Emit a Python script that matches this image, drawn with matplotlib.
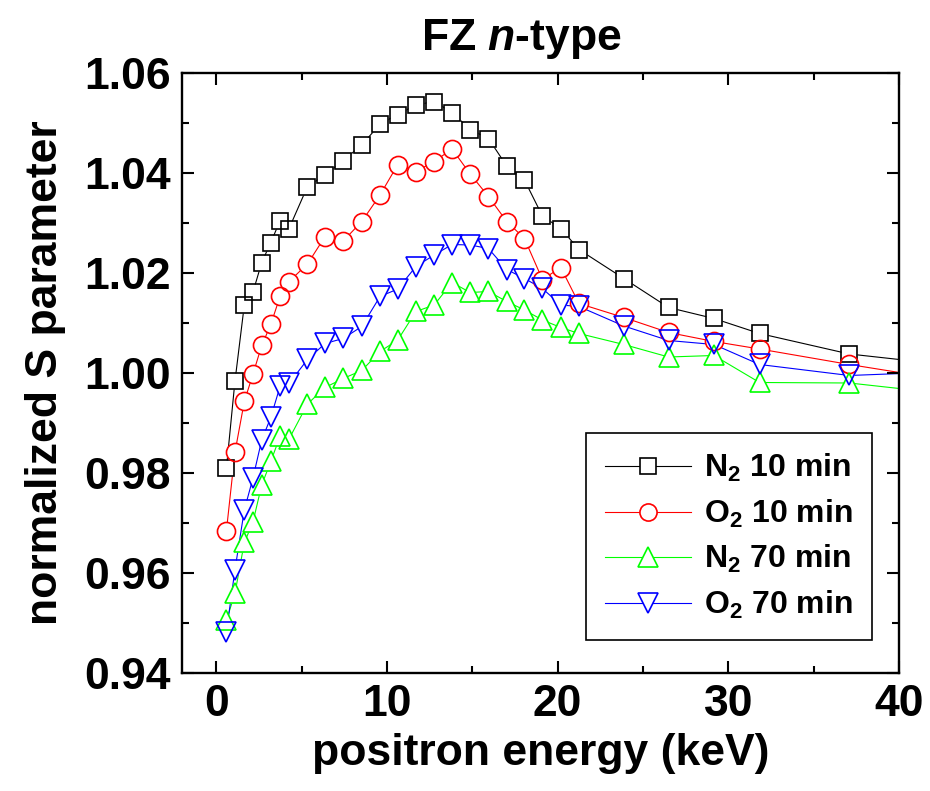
"""
Normalized S parameter vs positron energy, FZ n-type Si.
"""

import matplotlib
matplotlib.use("Agg")
import matplotlib.pyplot as plt
from matplotlib.lines import Line2D
from matplotlib.ticker import MultipleLocator


# ============================================================
# Data
# ============================================================
energy = [0.6, 1.1, 1.65, 2.15, 2.67, 3.2, 3.75, 4.27, 5.35, 6.38,
          7.44, 8.53, 9.6, 10.64, 11.7, 12.77, 13.82, 14.88, 15.95, 17.02,
          18.06, 19.11, 20.19, 21.25, 23.88, 26.5, 29.16, 31.83, 37.09, 42.4]

s_n2_10 = [0.9809, 0.9983, 1.0136, 1.0161, 1.0221, 1.0261, 1.0305, 1.0289, 1.0373, 1.0396,
           1.0425, 1.0456, 1.0498, 1.0517, 1.0536, 1.0543, 1.0521, 1.0487, 1.0469, 1.0414,
           1.0386, 1.0314, 1.0289, 1.0247, 1.0189, 1.0131, 1.0109, 1.0079, 1.0038, 1.0018]

s_o2_10 = [0.9684, 0.9841, 0.9943, 0.9997, 1.0055, 1.0097, 1.0154, 1.0183, 1.0218, 1.0273,
           1.0264, 1.0303, 1.0356, 1.0417, 1.0403, 1.0423, 1.0448, 1.0398, 1.0353, 1.0303,
           1.0269, 1.0187, 1.0211, 1.0139, 1.0111, 1.0081, 1.0063, 1.0048, 1.0017, 0.9988]

s_n2_70 = [0.9505, 0.9559, 0.9661, 0.9701, 0.9776, 0.9823, 0.9874, 0.9868, 0.9938, 0.9971,
           0.9989, 1.0005, 1.0043, 1.0066, 1.0123, 1.0136, 1.0181, 1.0161, 1.0163, 1.0143,
           1.0126, 1.0106, 1.0091, 1.0079, 1.0057, 1.0032, 1.0035, 0.9981, 0.9980, 0.9960]

s_o2_70 = [0.9482, 0.9606, 0.9726, 0.9789, 0.9866, 0.9911, 0.9974, 0.9979, 1.0027, 1.0059,
           1.0069, 1.0093, 1.0153, 1.0168, 1.0213, 1.0236, 1.0257, 1.0256, 1.0249, 1.0207,
           1.0189, 1.0169, 1.0136, 1.0133, 1.0094, 1.0065, 1.0057, 1.0017, 0.9995, 1.0002]

labels = [r"N$_2$ 10 min", r"O$_2$ 10 min", r"N$_2$ 70 min", r"O$_2$ 70 min"]
series = [s_n2_10, s_o2_10, s_n2_70, s_o2_70]


# ============================================================
# Style
# ============================================================
colors = ["black", "red", "#00ff00", "blue"]
markers = ["s", "o", "^", "v"]
msizes = [11.5, 13, 14.5, 14.5]

plt.rcParams["font.family"] = ["Liberation Sans", "DejaVu Sans"]
plt.rcParams["font.weight"] = "bold"
plt.rcParams["mathtext.fontset"] = "custom"
plt.rcParams["mathtext.rm"] = "Liberation Sans:bold"
plt.rcParams["mathtext.it"] = "Liberation Sans:italic:bold"
plt.rcParams["mathtext.bf"] = "Liberation Sans:bold"

fig = plt.figure(figsize=(9.3, 7.91), dpi=100)
ax = fig.add_axes([0.1957, 0.1492, 0.771, 0.7585])

# lines first, then white marker bodies, then hollow outlines on top
for ys, c in zip(series, colors):
    ax.plot(energy, ys, "-", color=c, lw=0.8, zorder=1)
for ys, m, ms in zip(series, markers, msizes):
    ax.plot(energy, ys, ls="none", marker=m, ms=ms, mfc="white", mec="none", zorder=2)
for ys, c, m, ms in zip(series, colors, markers, msizes):
    ax.plot(energy, ys, ls="none", marker=m, ms=ms, mfc="none", mec=c, mew=1.2, zorder=3)

ax.set_xlim(-2, 40)
ax.set_ylim(0.94, 1.06)
ax.xaxis.set_major_locator(MultipleLocator(10))
ax.xaxis.set_minor_locator(MultipleLocator(5))
ax.yaxis.set_major_locator(MultipleLocator(0.02))
ax.yaxis.set_minor_locator(MultipleLocator(0.01))
ax.yaxis.set_major_formatter(matplotlib.ticker.FormatStrFormatter("%.2f"))

ax.tick_params(which="both", direction="in", top=True, right=True, width=1.5)
ax.tick_params(which="major", length=8.5, labelsize=32, pad=8)
ax.tick_params(which="minor", length=5)
for sp in ax.spines.values():
    sp.set_linewidth(1.7)

ax.set_xlabel("positron energy (keV)", fontsize=32, fontweight="bold", labelpad=6)
ax.set_ylabel("normalized S parameter", fontsize=32, fontweight="bold", labelpad=13)

fig.text(0.561, 0.937, r"FZ $n$-type", ha="center", va="baseline",
         fontsize=32, fontweight="bold")

handles = [Line2D([], [], color=c, lw=0.8, marker=m, ms=ms * 0.95, mfc="white",
                  mec=c, mew=1.2)
           for c, m, ms in zip(colors, markers, msizes)]
leg = ax.legend(handles, labels, loc="lower right", bbox_to_anchor=(0.962, 0.055),
                fontsize=23, fancybox=False, edgecolor="black", framealpha=1,
                handlelength=2.7, handletextpad=0.4, labelspacing=0.42,
                borderpad=0.6, borderaxespad=0)
leg.get_frame().set_linewidth(1.2)

plt.savefig("out.png", dpi=100)
plt.close()
